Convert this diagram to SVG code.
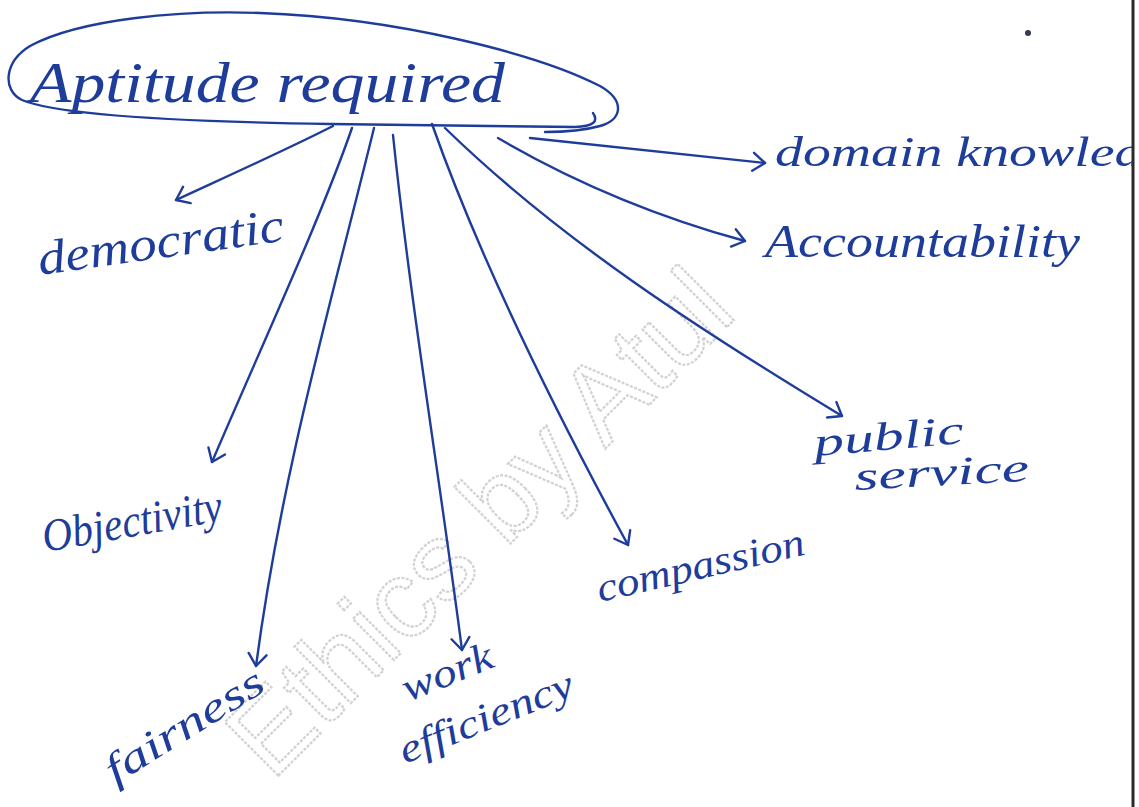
<svg xmlns="http://www.w3.org/2000/svg" width="1139" height="807" viewBox="0 0 1139 807">
  <style>
    .ink { fill: none; stroke: #1e3c9a; stroke-width: 2.4; stroke-linecap: round; stroke-linejoin: round; }
    .lbl { font-family: "Liberation Serif", "DejaVu Serif", serif; font-style: italic; fill: #1e3c9a; }
    .wm { font-family: "Liberation Sans", Arial, sans-serif; fill: none; stroke: #d2d2d2; stroke-width: 2.2; stroke-dasharray: 3 1.5; }
  </style>
  <defs>
    <marker id="arr" viewBox="-14 -11 16 22" refX="0" refY="0" markerWidth="16" markerHeight="22" orient="auto" markerUnits="userSpaceOnUse">
      <path d="M -12,-9 L 0,0 L -12,9" fill="none" stroke="#1e3c9a" stroke-width="2.4" stroke-linecap="round" stroke-linejoin="round"/>
    </marker>
    <clipPath id="page">
      <rect x="0" y="0" width="1132" height="807"/>
    </clipPath>
  </defs>

  <rect x="0" y="0" width="1139" height="807" fill="#ffffff"/>

  <!-- watermark -->
  <text class="wm" x="272" y="782" font-size="110" transform="rotate(-45 272 782)">Ethics by Atul</text>

  <!-- page edge and dot -->
  <line x1="1133" y1="0" x2="1133" y2="807" stroke="#2a2a2a" stroke-width="3"/>
  <circle cx="1028" cy="33" r="3" fill="#333a55"/>

  <g id="connectors">
    <path class="ink" marker-end="url(#arr)" d="M 333,126 C 290,148 230,175 176,200"/>
    <path class="ink" marker-end="url(#arr)" d="M 352,128 C 320,220 262,345 212,462"/>
    <path class="ink" marker-end="url(#arr)" d="M 374,128 C 332,300 282,470 256,666"/>
    <path class="ink" marker-end="url(#arr)" d="M 393,135 C 410,300 440,480 462,650"/>
    <path class="ink" marker-end="url(#arr)" d="M 432,124 C 480,260 560,420 628,545"/>
    <path class="ink" marker-end="url(#arr)" d="M 445,128 C 560,240 700,330 842,416"/>
    <path class="ink" marker-end="url(#arr)" d="M 498,138 C 570,180 650,215 745,241"/>
    <path class="ink" marker-end="url(#arr)" d="M 530,138 L 765,163"/>
  </g>

  <g id="node-aptitude">
    <path class="ink" d="M 593,113 Q 602,126 575,127 L 330,124 C 200,122 60,116 22,100 C 2,90 4,62 30,46 C 80,19 180,10 260,13 C 400,18 540,55 600,86 C 626,101 622,120 600,126 C 582,131 562,132 545,132"/>
    <text class="lbl" x="30" y="102" font-size="56" textLength="475" lengthAdjust="spacingAndGlyphs">Aptitude required</text>
  </g>

  <g id="node-domain" clip-path="url(#page)">
    <text class="lbl" x="775" y="166" font-size="42" textLength="420" lengthAdjust="spacingAndGlyphs">domain knowledge</text>
  </g>

  <g id="node-accountability">
    <text class="lbl" x="765" y="257" font-size="46" textLength="315" lengthAdjust="spacingAndGlyphs">Accountability</text>
  </g>

  <g id="node-democratic">
    <text class="lbl" x="40" y="275" font-size="48" textLength="248" lengthAdjust="spacingAndGlyphs" transform="rotate(-8 40 275)">democratic</text>
  </g>

  <g id="node-objectivity">
    <text class="lbl" x="45" y="552" font-size="46" textLength="182" lengthAdjust="spacingAndGlyphs" transform="rotate(-10 45 552)">Objectivity</text>
  </g>

  <g id="node-fairness">
    <text class="lbl" x="115" y="785" font-size="42" textLength="180" lengthAdjust="spacingAndGlyphs" transform="rotate(-32 115 785)">fairness</text>
  </g>

  <g id="node-work-efficiency">
    <text class="lbl" x="408" y="702" font-size="40" textLength="95" lengthAdjust="spacingAndGlyphs" transform="rotate(-22 408 702)">work</text>
    <text class="lbl" x="405" y="764" font-size="40" textLength="185" lengthAdjust="spacingAndGlyphs" transform="rotate(-22 405 764)">efficiency</text>
  </g>

  <g id="node-compassion">
    <text class="lbl" x="600" y="602" font-size="40" textLength="212" lengthAdjust="spacingAndGlyphs" transform="rotate(-13 600 602)">compassion</text>
  </g>

  <g id="node-public-service">
    <text class="lbl" x="815" y="456" font-size="40" textLength="150" lengthAdjust="spacingAndGlyphs" transform="rotate(-5 815 456)">public</text>
    <text class="lbl" x="855" y="490" font-size="40" textLength="175" lengthAdjust="spacingAndGlyphs" transform="rotate(-3 855 490)">service</text>
  </g>
</svg>
